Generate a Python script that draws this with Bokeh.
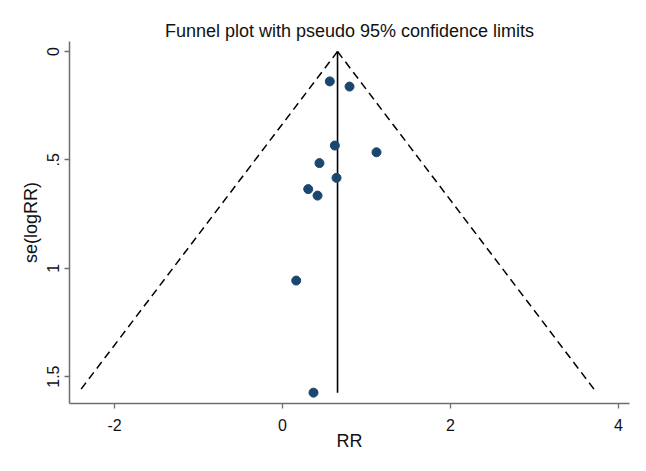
from bokeh.plotting import figure
from bokeh.models import Range1d, FixedTicker, ColumnDataSource
from bokeh.embed import file_html
from bokeh.resources import INLINE

# Study estimates (RR) and their standard errors se(logRR)
rr = [0.563, 0.798, 0.623, 1.119, 0.440, 0.643, 0.306, 0.417, 0.163, 0.369]
se = [0.138, 0.162, 0.434, 0.465, 0.515, 0.583, 0.635, 0.665, 1.057, 1.574]

# Pooled estimate and the deepest standard error drawn by the funnel
pooled = 0.655
se_max = 1.574
z95 = 1.96

x_ticks = [-2, 0, 2, 4]
x_tick_labels = ["-2", "0", "2", "4"]
y_ticks = [0, 0.5, 1, 1.5]
y_tick_labels = ["0", ".5", "1", "1.5"]

FONT = "Liberation Sans"

p = figure(width=638, height=463, output_backend="svg", toolbar_location=None,
           x_range=Range1d(-2.536, 4.131), y_range=Range1d(1.624, -0.046),
           min_border_left=69, min_border_right=9, min_border_top=41, min_border_bottom=60,
           title="Funnel plot with pseudo 95% confidence limits")

p.title.align = "center"
p.title.text_font = FONT
p.title.text_font_size = "18px"
p.title.text_font_style = "normal"
p.title.text_color = "#111111"
p.title.standoff = 2

p.outline_line_color = None
p.xgrid.visible = False
p.ygrid.visible = False
p.background_fill_color = "white"
p.border_fill_color = "white"

# funnel limits
src_l = ColumnDataSource(dict(x=[pooled, pooled - z95 * se_max], y=[0, se_max]))
src_r = ColumnDataSource(dict(x=[pooled, pooled + z95 * se_max], y=[0, se_max]))
p.line("x", "y", source=src_l, line_color="black", line_width=1.5, line_dash="8 5")
p.line("x", "y", source=src_r, line_color="black", line_width=1.5, line_dash="8 5")
src_v = ColumnDataSource(dict(x=[pooled, pooled], y=[0, se_max]))
p.line("x", "y", source=src_v, line_color="black", line_width=1.6)

src = ColumnDataSource(dict(x=rr, y=se))
p.scatter("x", "y", source=src, size=9, fill_color="#1a476f", line_color="#1a476f")

for ax in (p.xaxis[0], p.yaxis[0]):
    ax.axis_line_color = "#6e6e6e"
    ax.axis_line_width = 1.5
    ax.major_tick_line_color = "#6e6e6e"
    ax.major_tick_line_width = 1.3
    ax.major_tick_out = 5
    ax.major_tick_in = 0
    ax.minor_tick_line_color = None
    ax.major_label_text_font = FONT
    ax.major_label_text_font_size = "16px"
    ax.major_label_text_color = "#111111"
    ax.axis_label_text_font = FONT
    ax.axis_label_text_font_size = "18px"
    ax.axis_label_text_font_style = "normal"
    ax.axis_label_text_color = "#111111"

p.xaxis.ticker = FixedTicker(ticks=x_ticks)
p.xaxis.major_label_overrides = {t: l for t, l in zip(x_ticks, x_tick_labels)}
p.xaxis.axis_label = "RR"
p.xaxis.major_label_standoff = 10
p.xaxis.axis_label_standoff = -3

p.yaxis.ticker = FixedTicker(ticks=y_ticks)
p.yaxis.major_label_overrides = {t: l for t, l in zip(y_ticks, y_tick_labels)}
p.yaxis.major_label_orientation = "vertical"
p.yaxis.axis_label = "se(logRR)"
p.yaxis.major_label_standoff = 5
p.yaxis.axis_label_standoff = 4

open("out.html", "w").write(file_html(p, INLINE))
